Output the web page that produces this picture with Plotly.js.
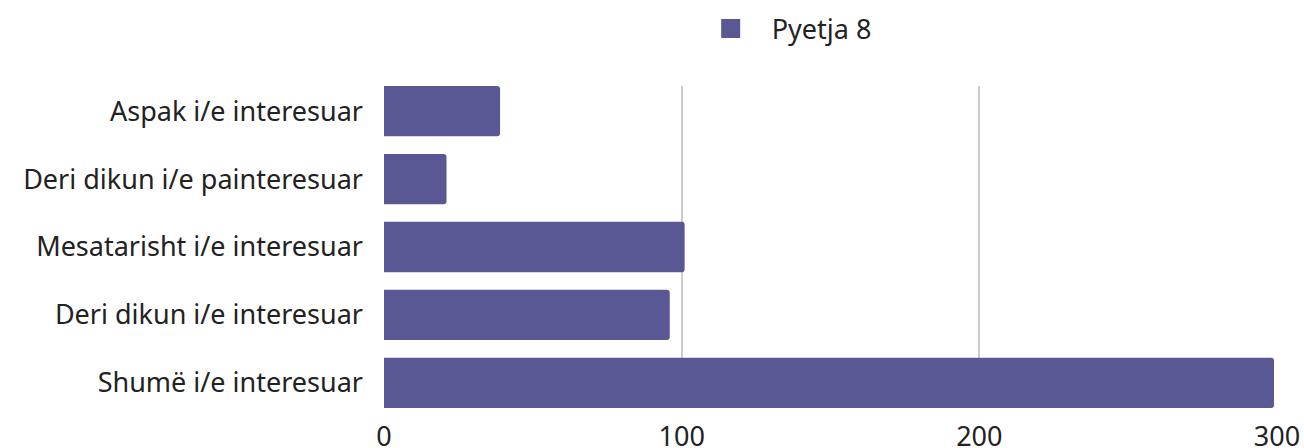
<!DOCTYPE html>
<html>
<head>
<meta charset="utf-8">
<script src="https://cdn.plot.ly/plotly-3.0.1.min.js"></script>
<style>html,body{margin:0;padding:0;background:#fff;}#chart{width:1304px;height:448px;}</style>
</head>
<body>
<div id="chart"></div>
<script>
var categories = ["Aspak i/e interesuar", "Deri dikun i/e painteresuar", "Mesatarisht i/e interesuar", "Deri dikun i/e interesuar", "Shumë i/e interesuar"];
var values = [39, 21, 101, 96, 299];
var seriesName = "Pyetja 8";
var xTicks = [0, 100, 200, 300];

var color = "#5a5894";
var font = "'Noto Sans', sans-serif";

var data = [
  {
    type: "bar",
    orientation: "h",
    y: categories,
    x: values,
    name: seriesName,
    marker: {color: color},
    showlegend: false,
    hoverinfo: "x+y"
  },
  {
    type: "scatter",
    mode: "markers",
    x: [null],
    y: [null],
    name: "\u00a0\u00a0\u00a0" + seriesName,
    marker: {symbol: "square", size: 20, color: color, line: {color: color, width: 3}},
    showlegend: true
  }
];

var layout = {
  width: 1304,
  height: 448,
  margin: {l: 384, r: 27, t: 86, b: 40, pad: 0},
  paper_bgcolor: "#ffffff",
  plot_bgcolor: "#ffffff",
  font: {family: font, size: 27, color: "#222222"},
  bargap: 0.26,
  barcornerradius: 3,
  showlegend: true,
  legend: {
    orientation: "h",
    xref: "container",
    yref: "container",
    x: 0.545,
    y: 0.99,
    xanchor: "left",
    yanchor: "top",
    font: {family: font, size: 27, color: "#222222"},
    bgcolor: "rgba(0,0,0,0)"
  },
  xaxis: {
    range: [0, 300],
    autorange: false,
    tickvals: xTicks,
    ticktext: xTicks.map(String),
    showgrid: true,
    gridcolor: "#cccccc",
    gridwidth: 2,
    zeroline: false,
    showline: false,
    ticks: "",
    ticklabelstandoff: 10,
    tickfont: {family: font, size: 27, color: "#222222"},
    fixedrange: true
  },
  yaxis: {
    type: "category",
    categoryorder: "array",
    categoryarray: categories,
    autorange: false,
    range: [4.37, -0.37],
    showgrid: false,
    zeroline: false,
    showline: false,
    ticks: "",
    ticklabelstandoff: 20,
    tickfont: {family: font, size: 27, color: "#222222"},
    fixedrange: true
  }
};

Plotly.newPlot("chart", data, layout, {displayModeBar: false, staticPlot: true});
</script>
</body>
</html>
